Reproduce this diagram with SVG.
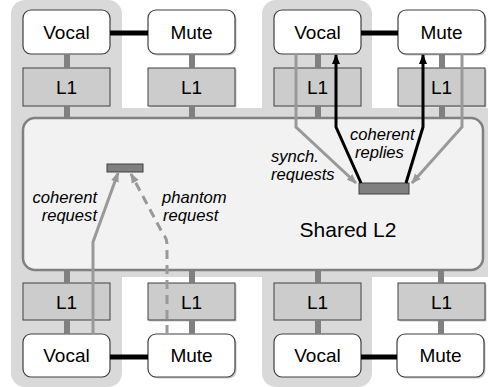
<svg xmlns="http://www.w3.org/2000/svg" width="488" height="387" viewBox="0 0 488 387">
<style>
.panel{fill:#d9d9d9}
.l2{fill:#f2f2f2;stroke:#808080;stroke-width:2.5}
.node{fill:#ffffff;stroke:#404040;stroke-width:1.2}
.l1{fill:#cccccc;stroke:#404040;stroke-width:1}
.shadow{fill:#808080;opacity:0.45}
.lbl{font-family:"Liberation Sans",Arial,sans-serif;font-size:19px;fill:#000;text-anchor:middle}
.it{font-family:"Liberation Sans",Arial,sans-serif;font-size:16.6px;font-style:italic;fill:#000}
.bus{stroke:#808080;stroke-width:6;fill:none}
.link{stroke:#000;stroke-width:5;fill:none}
.req{stroke:#999999;stroke-width:3;fill:none}
.rep{stroke:#000;stroke-width:3;fill:none}
.buf{fill:#808080;stroke:#404040;stroke-width:1}
</style>
<defs>
<marker id="ag" markerUnits="userSpaceOnUse" markerWidth="10" markerHeight="10" viewBox="0 0 10 10" refX="9" refY="5" orient="auto">
<path d="M0,1 L10,5 L0,9 Z" fill="#999999"/>
</marker>
<marker id="ab" markerUnits="userSpaceOnUse" markerWidth="10" markerHeight="10" viewBox="0 0 10 10" refX="9" refY="5" orient="auto">
<path d="M0,1 L10,5 L0,9 Z" fill="#000"/>
</marker>
</defs>
<rect x="0" y="0" width="488" height="387" fill="#ffffff"/>
<g id="background">
<rect class="panel" x="11" y="0" width="111" height="387" rx="14"/>
<rect class="panel" x="262" y="0" width="110" height="387" rx="14"/>
<rect class="panel" x="11" y="108" width="477" height="169"/>
</g>
<g id="sharedL2">
<rect class="l2" x="23" y="118" width="460" height="152" rx="12"/>
<text class="lbl" x="348" y="237" style="font-size:21px">Shared L2</text>
</g>
<g id="top-left-vocal"><rect class="node" x="23" y="10" width="87" height="44" rx="8"/><text class="lbl" x="66.5" y="39">Vocal</text></g>
<g id="top-left-mute"><rect class="shadow" x="149.5" y="11.5" width="87" height="44" rx="8"/><rect class="node" x="148" y="10" width="87" height="44" rx="8"/><text class="lbl" x="191.5" y="39">Mute</text></g>
<g id="top-right-vocal"><rect class="node" x="274" y="10" width="87" height="44" rx="8"/><text class="lbl" x="317.5" y="39">Vocal</text></g>
<g id="top-right-mute"><rect class="shadow" x="399.5" y="11.5" width="87" height="44" rx="8"/><rect class="node" x="398" y="10" width="87" height="44" rx="8"/><text class="lbl" x="441.5" y="39">Mute</text></g>
<g id="top-left-vocal-l1"><rect class="l1" x="23" y="68" width="87" height="38"/><text class="lbl" x="66.5" y="94">L1</text></g>
<g id="top-left-mute-l1"><rect class="shadow" x="149.5" y="69.5" width="87" height="38"/><rect class="l1" x="148" y="68" width="87" height="38"/><text class="lbl" x="191.5" y="94">L1</text></g>
<g id="top-right-vocal-l1"><rect class="l1" x="274" y="68" width="87" height="38"/><text class="lbl" x="317.5" y="94">L1</text></g>
<g id="top-right-mute-l1"><rect class="shadow" x="399.5" y="69.5" width="87" height="38"/><rect class="l1" x="398" y="68" width="87" height="38"/><text class="lbl" x="441.5" y="94">L1</text></g>
<g id="bottom-left-vocal-l1"><rect class="l1" x="23" y="283" width="87" height="37"/><text class="lbl" x="66.5" y="309">L1</text></g>
<g id="bottom-left-mute-l1"><rect class="shadow" x="149.5" y="284.5" width="87" height="37"/><rect class="l1" x="148" y="283" width="87" height="37"/><text class="lbl" x="191.5" y="309">L1</text></g>
<g id="bottom-right-vocal-l1"><rect class="l1" x="274" y="283" width="87" height="37"/><text class="lbl" x="317.5" y="309">L1</text></g>
<g id="bottom-right-mute-l1"><rect class="shadow" x="399.5" y="284.5" width="87" height="37"/><rect class="l1" x="398" y="283" width="87" height="37"/><text class="lbl" x="441.5" y="309">L1</text></g>
<g id="bottom-left-vocal"><rect class="node" x="23" y="334" width="87" height="43" rx="8"/><text class="lbl" x="66.5" y="362">Vocal</text></g>
<g id="bottom-left-mute"><rect class="shadow" x="149.5" y="335.5" width="87" height="43" rx="8"/><rect class="node" x="148" y="334" width="87" height="43" rx="8"/><text class="lbl" x="191.5" y="362">Mute</text></g>
<g id="bottom-right-vocal"><rect class="node" x="274" y="334" width="87" height="43" rx="8"/><text class="lbl" x="317.5" y="362">Vocal</text></g>
<g id="bottom-right-mute"><rect class="shadow" x="398.5" y="335.5" width="87" height="43" rx="8"/><rect class="node" x="397" y="334" width="87" height="43" rx="8"/><text class="lbl" x="440.5" y="362">Mute</text></g>
<g id="buffer-left"><rect class="buf" x="107" y="164" width="36" height="8"/></g>
<g id="buffer-right"><rect class="buf" x="359" y="183" width="50" height="11"/></g>
<g id="connectors">
<path class="bus" d="M67,54V68M67,106V118M192,54V68M192,106V118M318,54V68M318,106V118M442,54V68M442,106V118"/>
<path class="bus" d="M67,270V283M67,320V334M192,270V283M192,320V334M318,270V283M318,320V334M441,270V283M441,320V334"/>
<path class="link" d="M110,33H148M361,33H398M110,357H148M361,357H397"/>
<path class="req" d="M296,54V127L356,183" marker-end="url(#ag)"/>
<path class="req" d="M462,54V127L412,183" marker-end="url(#ag)"/>
<path class="rep" d="M361,183L336,127V55" marker-end="url(#ab)"/>
<path class="rep" d="M406,183L423,127V55" marker-end="url(#ab)"/>
<path class="req" d="M93,334V242L118,173" marker-end="url(#ag)"/>
<path class="req" d="M167,334V244Q167,238 163,234L131,174" stroke-dasharray="9,6" marker-end="url(#ag)"/>
</g>
<g id="labels">
<text class="it" x="97" y="203" text-anchor="end">coherent</text>
<text class="it" x="97" y="221" text-anchor="end">request</text>
<text class="it" x="162" y="203">phantom</text>
<text class="it" x="163" y="221">request</text>
<text class="it" x="271" y="162">synch.</text>
<text class="it" x="271" y="180">requests</text>
<text class="it" x="350" y="140">coherent</text>
<text class="it" x="355" y="158">replies</text>
</g>
</svg>
